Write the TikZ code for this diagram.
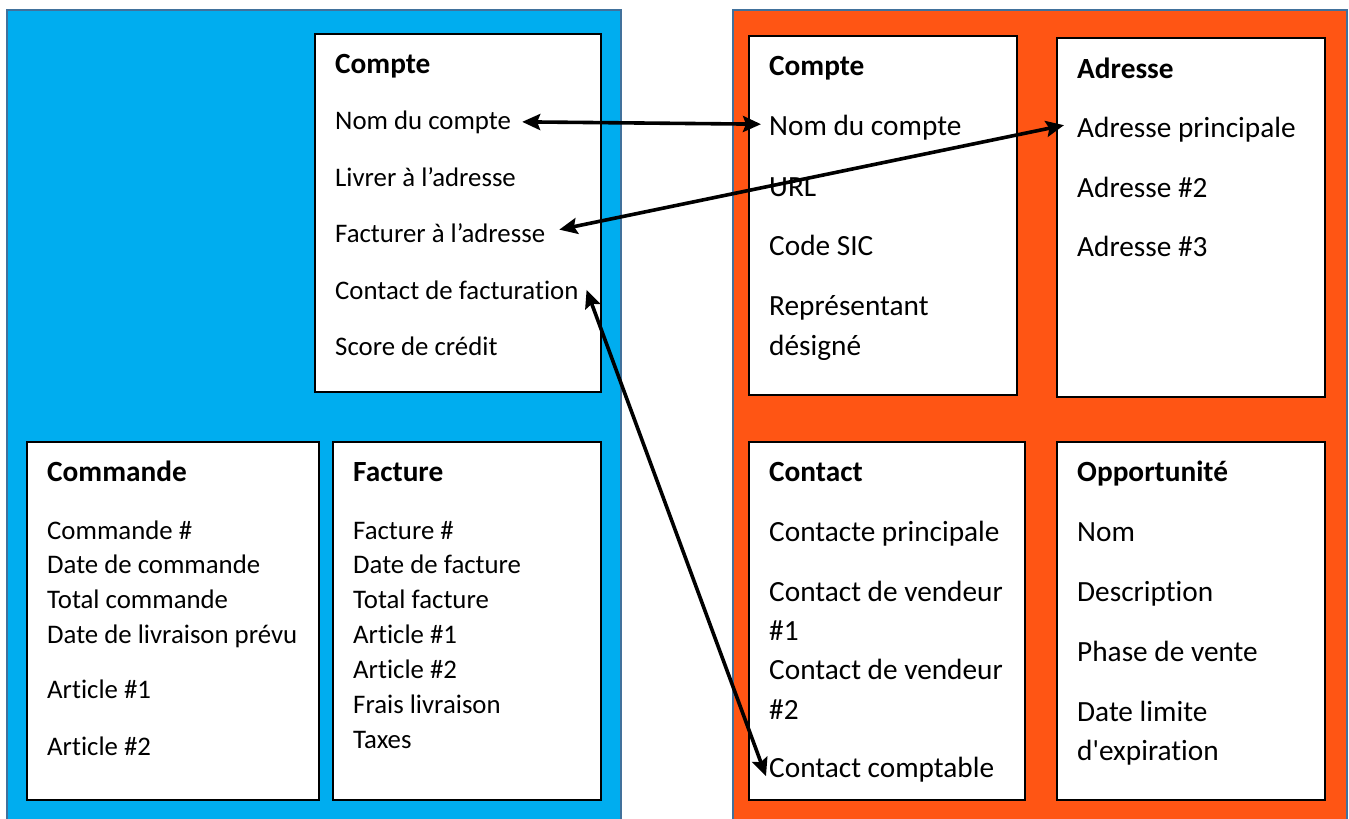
\documentclass[tikz,border=0pt]{standalone}
\usepackage{fontspec}
\setmainfont{Carlito}[Ligatures={NoCommon}]
\newfontfamily\rawfont{Carlito}[Ligatures={NoCommon,TeXOff}]
\usetikzlibrary{arrows.meta,calc}
\definecolor{panelblue}{RGB}{0,173,239}
\definecolor{panelorange}{RGB}{255,85,20}
\definecolor{paneledge}{RGB}{65,113,156}
\tikzset{
  panel/.style={draw=paneledge,line width=2pt},
  card/.style={draw=black,fill=white,line width=1.6pt},
  ttl/.style={anchor=base west,inner sep=0pt,font=\fontsize{29.3}{34}\selectfont\bfseries},
  lt/.style={anchor=base west,inner sep=0pt,font=\fontsize{26.8}{32}\selectfont},
  rt/.style={anchor=base west,inner sep=0pt,font=\fontsize{29.3}{34}\selectfont},
  link/.style={line width=3.6pt,{Stealth[length=18pt,width=16pt,inset=3pt]}-{Stealth[length=18pt,width=16pt,inset=3pt]}}
}
\begin{document}
\begin{tikzpicture}[x=1pt,y=-1pt]
\useasboundingbox (0,0) rectangle (1349,819);
\clip (0,0) rectangle (1349,819);
% panels
\path[panel,fill=panelblue] (6.5,10) rectangle (621,830);
\path[panel,fill=panelorange] (733,10) rectangle (1346.5,830);
% cards
\path[card] (315,34) rectangle (601,392);
\path[card] (27,442) rectangle (319,800);
\path[card] (333,442) rectangle (601,800);
\path[card] (749,36) rectangle (1017,395);
\path[card] (1057,38) rectangle (1325,397);
\path[card] (749,442) rectangle (1025,800);
\path[card] (1057,442) rectangle (1325,800);
% left Compte
\node[ttl] (lc0) at (335,73) {Compte};
\node[lt] (lc1) at (335,129) {Nom du compte};
\node[lt] (lc2) at (335,186) {Livrer à l’adresse};
\node[lt] (lc3) at (335,242) {Facturer à l’adresse};
\node[lt] (lc4) at (335,299) {Contact de facturation};
\node[lt] (lc5) at (335,355) {Score de crédit};
% Commande
\node[ttl] (co0) at (47,481) {Commande};
\node[lt] (co1) at (47,539) {Commande \#};
\node[lt] (co2) at (47,573) {Date de commande};
\node[lt] (co3) at (47,608) {Total commande};
\node[lt] (co4) at (47,643) {Date de livraison prévu};
\node[lt] (co5) at (47,698) {Article \#1};
\node[lt] (co6) at (47,755) {Article \#2};
% Facture
\node[ttl] (fa0) at (353,481) {Facture};
\node[lt] (fa1) at (353,539) {Facture \#};
\node[lt] (fa2) at (353,573) {Date de facture};
\node[lt] (fa3) at (353,608) {Total facture};
\node[lt] (fa4) at (353,643) {Article \#1};
\node[lt] (fa5) at (353,678) {Article \#2};
\node[lt] (fa6) at (353,713) {Frais livraison};
\node[lt] (fa7) at (353,748) {Taxes};
% right Compte
\node[ttl] (rc0) at (769,75) {Compte};
\node[rt] (rc1) at (769,135) {Nom du compte};
\node[rt] (rc2) at (769,196) {URL};
\node[rt] (rc3) at (769,255) {Code SIC};
\node[rt] (rc4) at (769,315) {Représentant};
\node[rt] (rc5) at (769,355) {désigné};
% Adresse
\node[ttl] (ad0) at (1077,78) {Adresse};
\node[rt] (ad1) at (1077,137) {Adresse principale};
\node[rt] (ad2) at (1077,197) {Adresse \#2};
\node[rt] (ad3) at (1077,256) {Adresse \#3};
% Contact
\node[ttl] (ct0) at (769,481) {Contact};
\node[rt] (ct1) at (769,541) {Contacte principale};
\node[rt] (ct2) at (769,601) {Contact de vendeur};
\node[rt] (ct3) at (769,640) {\#1};
\node[rt] (ct4) at (769,679) {Contact de vendeur};
\node[rt] (ct5) at (769,719) {\#2};
\node[rt] (ct6) at (769,777) {Contact comptable};
% Opportunite
\node[ttl] (op0) at (1077,481) {Opportunité};
\node[rt] (op1) at (1077,541) {Nom};
\node[rt] (op2) at (1077,601) {Description};
\node[rt] (op3) at (1077,661) {Phase de vente};
\node[rt] (op4) at (1077,721) {Date limite};
\node[rt] (op5) at (1077,760) {{\rawfont d'expiration}};
% links
\draw[link] ($(lc1.east)+(11,0)$) -- ($(rc1.west)+(-8,-3)$);
\draw[link] ($(lc3.east)+(14,-3)$) -- ($(ad1.west)+(-13,-4)$);
\draw[link] ($(lc4.east)+(8,0)$) -- ($(ct6.west)+(-3,7)$);
\end{tikzpicture}
\end{document}
